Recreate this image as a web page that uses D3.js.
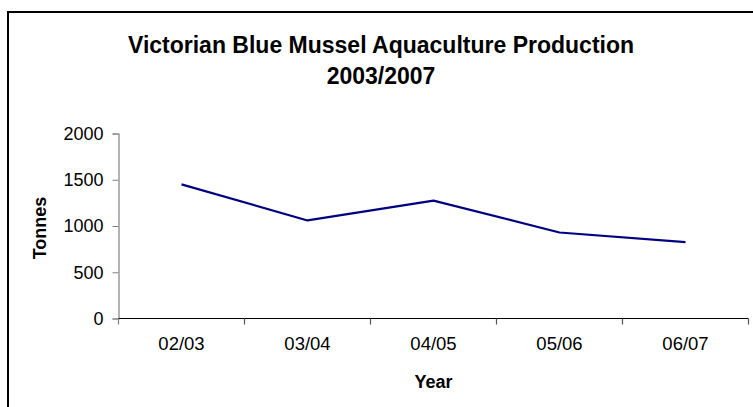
<!DOCTYPE html>
<html>
<head>
<meta charset="utf-8">
<script src="https://cdn.jsdelivr.net/npm/d3@7"></script>
<style>
  html, body { margin: 0; padding: 0; background: #fff; }
  svg { display: block; }
  text { font-family: "Liberation Sans", Arial, sans-serif; fill: #000; }
</style>
</head>
<body>
<svg id="chart" width="753" height="407"></svg>
<script>
// Production by financial year (tonnes)
const years = ["02/03", "03/04", "04/05", "05/06", "06/07"];
const tonnes = [1450, 1060, 1275, 930, 825];
const yTicks = [0, 500, 1000, 1500, 2000];
const titleLines = ["Victorian Blue Mussel Aquaculture Production", "2003/2007"];

const svg = d3.select("#chart");
const W = 753, H = 407;
const plot = { left: 118.5, right: 748.5, top: 133.5, bottom: 318.5 };
const font = "Liberation Sans, Arial, sans-serif";

// Outer chart frame
svg.append("rect")
  .attr("x", 8).attr("y", 12)
  .attr("width", W + 20).attr("height", H + 20)
  .attr("fill", "none").attr("stroke", "#000").attr("stroke-width", 2);

// Title
svg.append("text")
  .attr("text-anchor", "middle")
  .attr("font-size", 23).attr("font-weight", "bold")
  .selectAll("tspan").data(titleLines).join("tspan")
  .attr("x", 381).attr("y", (d, i) => 53 + i * 31)
  .text(d => d);

const x = d3.scaleBand().domain(years).range([plot.left, plot.right]);
const y = d3.scaleLinear().domain([0, 2000]).range([plot.bottom, plot.top]);

// Y axis
const yAxis = svg.append("g")
  .attr("transform", `translate(${plot.left},0)`)
  .call(d3.axisLeft(y).tickValues(yTicks).tickFormat(d3.format("d")).tickSize(6).tickPadding(9));
yAxis.select(".domain").attr("stroke", "#808080").attr("stroke-width", 1.2);
yAxis.selectAll(".tick line").attr("stroke", "#808080");
yAxis.selectAll(".tick text")
  .attr("font-size", 18).attr("font-family", font).attr("fill", "#000");

// X axis with boundary ticks between categories
const xAxis = svg.append("g")
  .attr("transform", `translate(0,${plot.bottom})`)
  .call(d3.axisBottom(x).tickSize(0).tickPadding(18));
xAxis.select(".domain").attr("stroke", "#000").attr("stroke-width", 1.2)
  .attr("d", `M${plot.left},0H${plot.right}`);
xAxis.selectAll(".tick text")
  .attr("font-size", 18.5).attr("font-family", font).attr("fill", "#000");
const bounds = years.map(d => x(d)).concat([x(years[years.length - 1]) + x.bandwidth()]);
xAxis.selectAll(".bound").data(bounds).join("line")
  .attr("class", "bound")
  .attr("x1", d => d).attr("x2", d => d)
  .attr("y1", 0).attr("y2", 6)
  .attr("stroke", (d, i) => i === 0 ? "#808080" : "#555").attr("stroke-width", 1.2);

// Axis titles
svg.append("text")
  .attr("transform", `translate(46,${(plot.top + plot.bottom) / 2 + 2}) rotate(-90)`)
  .attr("text-anchor", "middle")
  .attr("font-size", 18).attr("font-weight", "bold")
  .text("Tonnes");
svg.append("text")
  .attr("x", (plot.left + plot.right) / 2).attr("y", 388)
  .attr("text-anchor", "middle")
  .attr("font-size", 18).attr("font-weight", "bold")
  .text("Year");

// Production line
const line = d3.line()
  .x((d, i) => x(years[i]) + x.bandwidth() / 2)
  .y(d => y(d));
svg.append("path")
  .datum(tonnes)
  .attr("d", line)
  .attr("fill", "none")
  .attr("stroke", "#000080")
  .attr("stroke-width", 2.2)
  .attr("stroke-linejoin", "round");
</script>
</body>
</html>
